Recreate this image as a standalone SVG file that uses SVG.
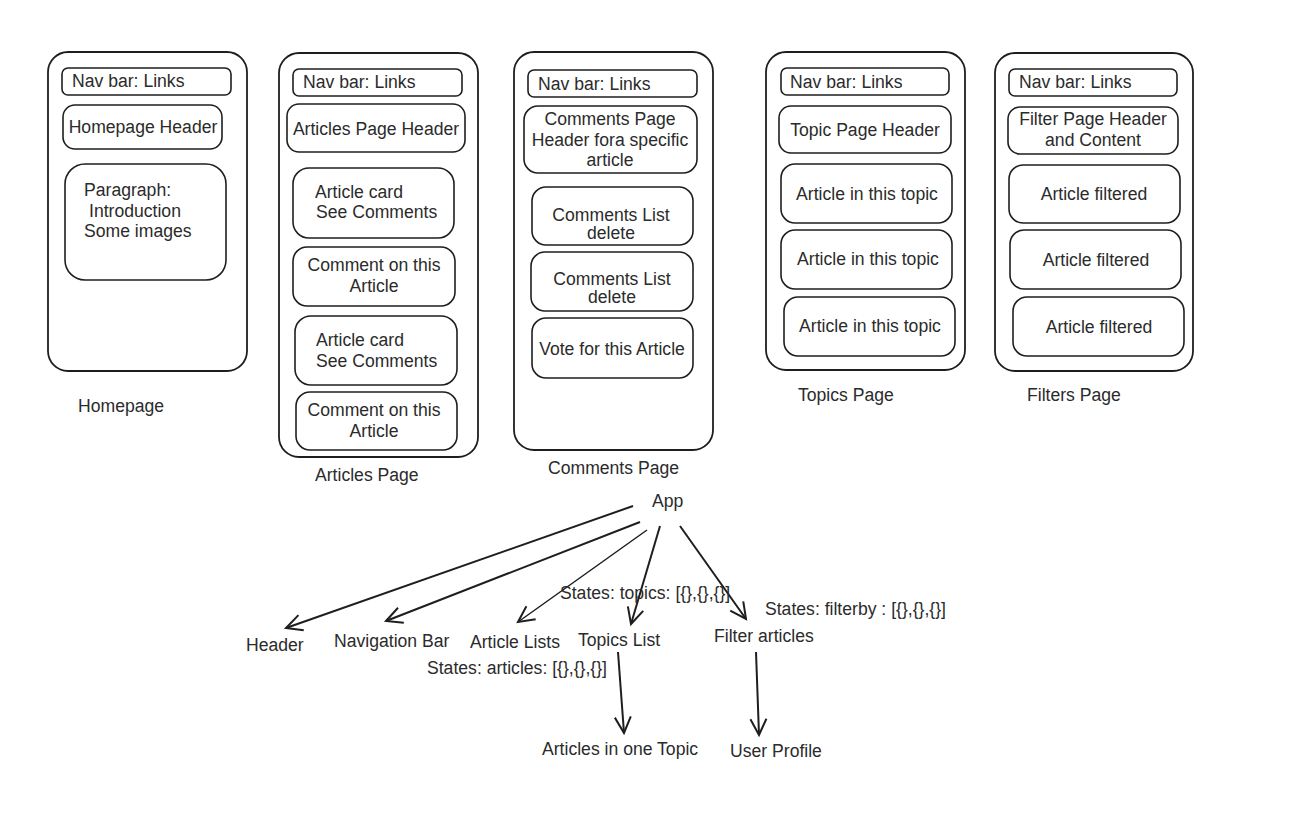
<svg xmlns="http://www.w3.org/2000/svg" width="1296" height="814" viewBox="0 0 1296 814">
<defs>
<style>
.box{fill:none;stroke:#1e1e1e;stroke-width:1.6}
.out{fill:none;stroke:#1e1e1e;stroke-width:1.8}
text{font-family:"Liberation Sans",Arial,sans-serif;font-size:17.6px;fill:#2b2b2b}
.c{text-anchor:middle}
.ln{fill:none;stroke:#1e1e1e;stroke-width:2}
</style>
<marker id="ah" markerUnits="userSpaceOnUse" markerWidth="24" markerHeight="24" refX="17" refY="9" orient="auto" viewBox="0 0 24 18">
<path d="M1,1 L17,9 L1,17" fill="none" stroke="#1e1e1e" stroke-width="2"/>
</marker>
</defs>
<rect width="1296" height="814" fill="#ffffff"/>

<g id="homepage">
<rect class="out" x="48" y="52" width="199" height="319" rx="20"/>
<rect class="box" x="62" y="68" width="169" height="27" rx="6"/>
<text x="72" y="87">Nav bar: Links</text>
<rect class="box" x="63" y="105" width="159" height="44" rx="12"/>
<text class="c" x="143" y="133">Homepage Header</text>
<rect class="box" x="65" y="164" width="161" height="116" rx="20"/>
<text x="84" y="196">Paragraph:</text>
<text x="89" y="217">Introduction</text>
<text x="84" y="237">Some images</text>
<text x="78" y="412">Homepage</text>
</g>

<g id="articles-page">
<rect class="out" x="279" y="53" width="199" height="404" rx="20"/>
<rect class="box" x="293" y="69" width="169" height="27" rx="6"/>
<text x="303" y="88">Nav bar: Links</text>
<rect class="box" x="287" y="104" width="178" height="48" rx="12"/>
<text class="c" x="376" y="135">Articles Page Header</text>
<rect class="box" x="293" y="168" width="161" height="70" rx="16"/>
<text x="315" y="198">Article card</text>
<text x="316" y="218">See Comments</text>
<rect class="box" x="293" y="247" width="162" height="59" rx="14"/>
<text class="c" x="374" y="271">Comment on this</text>
<text class="c" x="374" y="292">Article</text>
<rect class="box" x="295" y="316" width="162" height="69" rx="16"/>
<text x="316" y="346">Article card</text>
<text x="316" y="367">See Comments</text>
<rect class="box" x="296" y="392" width="161" height="58" rx="14"/>
<text class="c" x="374" y="416">Comment on this</text>
<text class="c" x="374" y="437">Article</text>
<text x="315" y="481">Articles Page</text>
</g>

<g id="comments-page">
<rect class="out" x="514" y="52" width="199" height="398" rx="20"/>
<rect class="box" x="528" y="70" width="169" height="27" rx="6"/>
<text x="538" y="90">Nav bar: Links</text>
<rect class="box" x="524" y="106" width="173" height="67" rx="14"/>
<text class="c" x="610" y="125">Comments Page</text>
<text class="c" x="610" y="146">Header fora specific</text>
<text class="c" x="610" y="166">article</text>
<rect class="box" x="532" y="187" width="161" height="58" rx="14"/>
<text class="c" x="611" y="221">Comments List</text>
<text class="c" x="611" y="239">delete</text>
<rect class="box" x="531" y="252" width="162" height="59" rx="14"/>
<text class="c" x="612" y="285">Comments List</text>
<text class="c" x="612" y="303">delete</text>
<rect class="box" x="532" y="318" width="161" height="60" rx="14"/>
<text class="c" x="612" y="355">Vote for this Article</text>
<text x="548" y="474">Comments Page</text>
</g>

<g id="topics-page">
<rect class="out" x="766" y="52" width="199" height="318" rx="20"/>
<rect class="box" x="781" y="68" width="168" height="27" rx="6"/>
<text x="790" y="88">Nav bar: Links</text>
<rect class="box" x="779" y="106" width="172" height="47" rx="12"/>
<text class="c" x="865" y="136">Topic Page Header</text>
<rect class="box" x="781" y="164" width="171" height="59" rx="14"/>
<text class="c" x="867" y="200">Article in this topic</text>
<rect class="box" x="781" y="230" width="171" height="59" rx="14"/>
<text class="c" x="868" y="265">Article in this topic</text>
<rect class="box" x="784" y="297" width="171" height="59" rx="14"/>
<text class="c" x="870" y="332">Article in this topic</text>
<text x="798" y="401">Topics Page</text>
</g>

<g id="filters-page">
<rect class="out" x="995" y="53" width="198" height="318" rx="20"/>
<rect class="box" x="1009" y="69" width="168" height="27" rx="6"/>
<text x="1019" y="88">Nav bar: Links</text>
<rect class="box" x="1008" y="107" width="170" height="47" rx="12"/>
<text class="c" x="1093" y="125">Filter Page Header</text>
<text class="c" x="1093" y="146">and Content</text>
<rect class="box" x="1009" y="165" width="171" height="58" rx="14"/>
<text class="c" x="1094" y="200">Article filtered</text>
<rect class="box" x="1010" y="230" width="171" height="59" rx="14"/>
<text class="c" x="1096" y="266">Article filtered</text>
<rect class="box" x="1013" y="297" width="171" height="59" rx="14"/>
<text class="c" x="1099" y="333">Article filtered</text>
<text x="1027" y="401">Filters Page</text>
</g>

<g id="connectors">
<line class="ln" x1="633" y1="506" x2="286" y2="628" marker-end="url(#ah)"/>
<line class="ln" x1="640" y1="522" x2="386" y2="621" marker-end="url(#ah)"/>
<line class="ln" x1="647" y1="530" x2="518" y2="622" marker-end="url(#ah)" style="stroke-width:1.5"/>
<line class="ln" x1="660" y1="526" x2="631" y2="624" marker-end="url(#ah)"/>
<line class="ln" x1="680" y1="526" x2="746" y2="619" marker-end="url(#ah)"/>
<line class="ln" x1="618" y1="652" x2="624" y2="733" marker-end="url(#ah)"/>
<line class="ln" x1="756" y1="652" x2="759" y2="735" marker-end="url(#ah)"/>
</g>

<g id="app"><text x="652" y="507">App</text></g>
<g id="header"><text x="246" y="651">Header</text></g>
<g id="navigation-bar"><text x="334" y="647">Navigation Bar</text></g>
<g id="article-lists"><text x="470" y="648">Article Lists</text>
<text x="427" y="674">States: articles: [{},{},{}]</text></g>
<g id="topics-list"><text x="578" y="646">Topics List</text>
<text x="560" y="599">States: topics: [{},{},{}]</text></g>
<g id="filter-articles"><text x="714" y="642">Filter articles</text>
<text x="765" y="615">States: filterby : [{},{},{}]</text></g>
<g id="articles-in-one-topic"><text x="542" y="755">Articles in one Topic</text></g>
<g id="user-profile"><text x="730" y="757">User Profile</text></g>
</svg>
